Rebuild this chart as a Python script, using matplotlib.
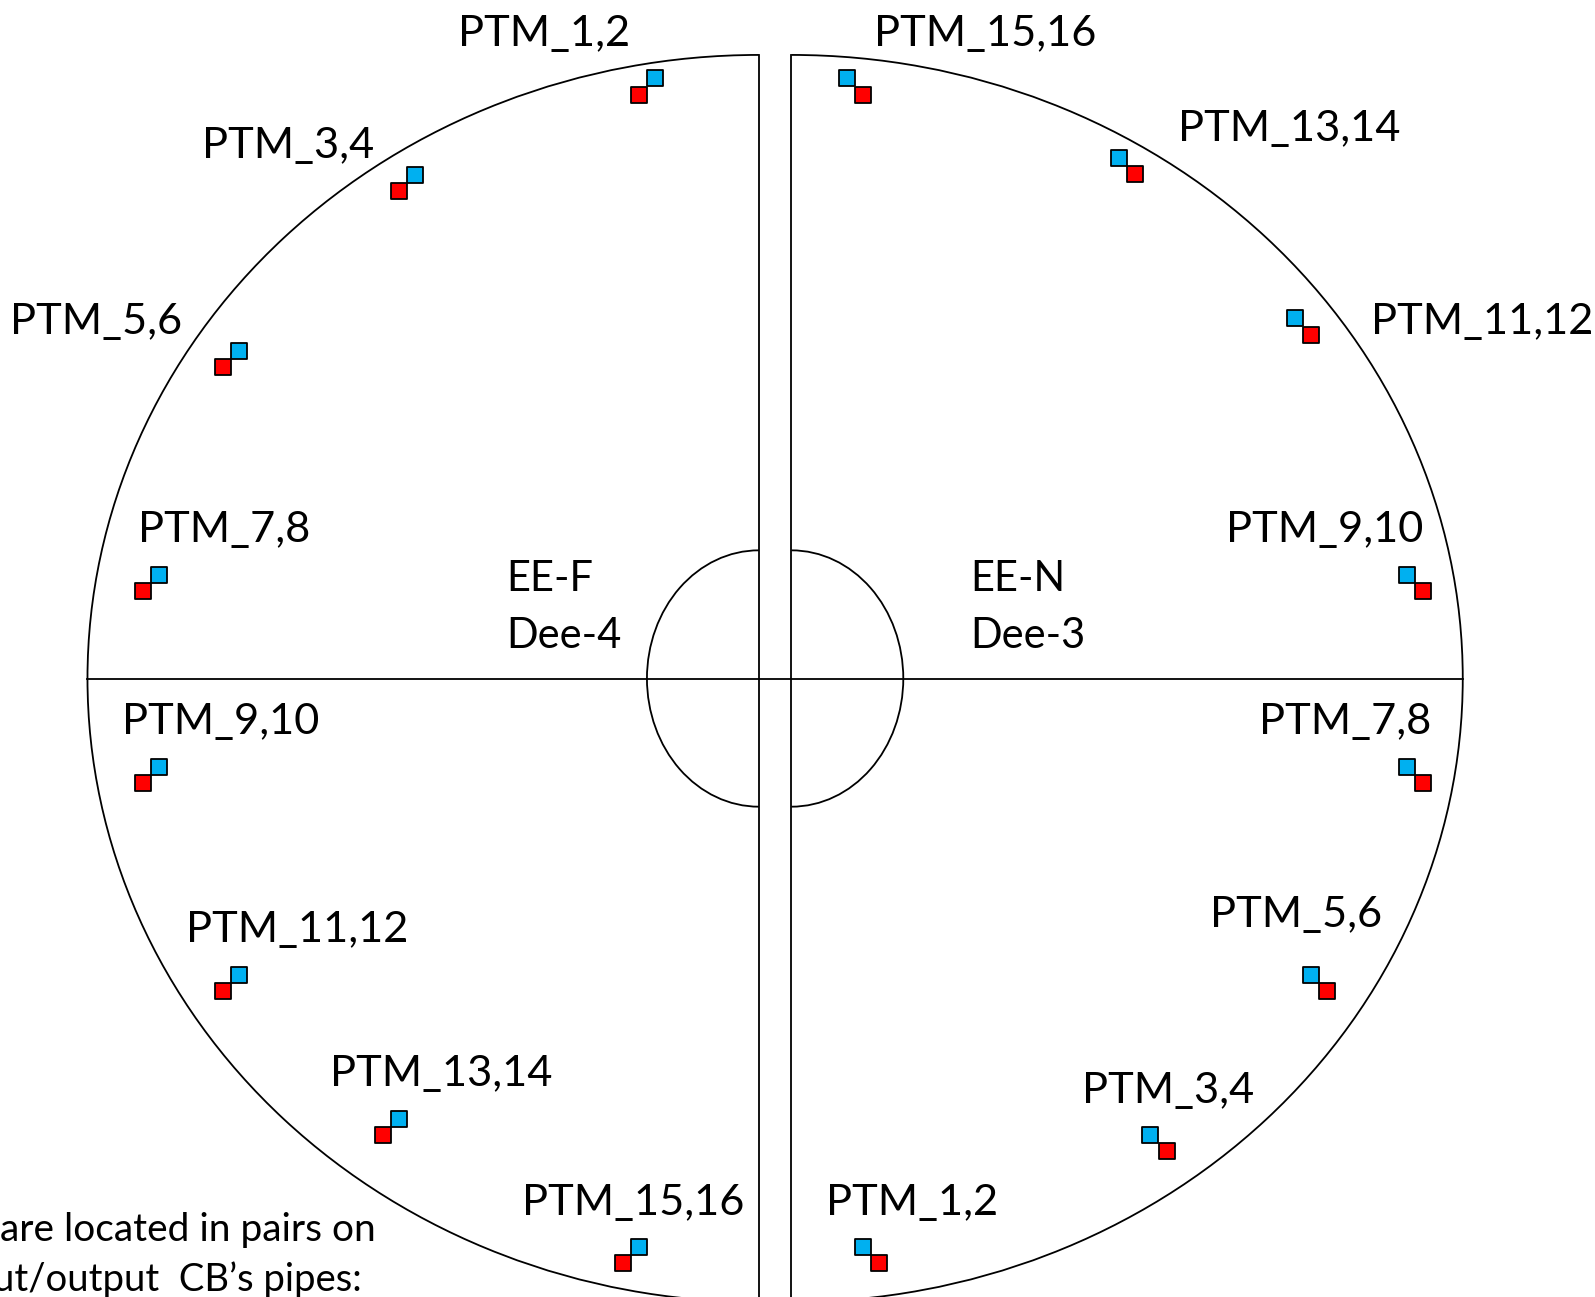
import matplotlib
matplotlib.use("Agg")
import matplotlib.pyplot as plt
from matplotlib.patches import Arc

# Layout units of the diagram
left_edge, right_edge = 86, 1438
gap_left, gap_right = 746, 778
center_y, outer_ry, inner_ry, inner_rx = 667, 613, 126, 110

# Left dee (EE-F) sensors
left_labels = ["PTM_1,2", "PTM_3,4", "PTM_5,6", "PTM_7,8", "PTM_9,10", "PTM_11,12", "PTM_13,14", "PTM_15,16"]
left_label_x = [452, 200, 11, 137, 121, 184, 326, 515]
left_label_y = [45, 155, 328, 533, 722, 926, 1068, 1194]
left_blue_x = [644, 408, 235, 156, 156, 235, 392, 628]
left_blue_y = [77, 172, 345, 565, 754, 958, 1100, 1226]
left_red_x = [628, 392, 219, 140.5, 140.5, 219, 376.5, 612]
left_red_y = [93, 187.5, 360.5, 580.5, 769.5, 974, 1116, 1241.5]

# Right dee (EE-N) sensors
right_labels = ["PTM_15,16", "PTM_13,14", "PTM_11,12", "PTM_9,10", "PTM_7,8", "PTM_5,6", "PTM_3,4", "PTM_1,2"]
right_label_x = [861, 1160, 1349, 1207, 1239, 1191, 1065, 814]
right_label_y = [45, 139, 328, 533, 722, 911, 1084, 1194]
right_blue_x = [832.5, 1100, 1273, 1383, 1383, 1289, 1131, 848]
right_blue_y = [77, 155, 313, 565, 754, 958, 1116, 1226]
right_red_x = [848, 1116, 1289, 1399, 1399, 1304.5, 1147, 864]
right_red_y = [93, 171.5, 329, 581, 770, 974, 1131, 1241.5]

# Dee captions
dee_text = ["EE-F", "Dee-4", "EE-N", "Dee-3"]
dee_x = [499, 499, 955, 955]
dee_y = [581, 637, 581, 637]

# Note cut off by the lower-left edge of the slide
note_text = ["are located in pairs on", "ut/output  CB\u2019s pipes:"]
note_x = [369.5, 355.5]
note_y = [1220, 1269]
note_size = [28, 27.5]

BLUE, RED = "#00B0F0", "#FF0000"
LW = 1.3

plt.rcParams["font.family"] = ["Lato", "DejaVu Sans"]
fig = plt.figure(figsize=(15.95, 12.97), dpi=100)
ax = fig.add_axes([0, 0, 1, 1])
ax.set_xlim(0, 1568)
ax.set_ylim(1275, 0)
ax.axis("off")

# Half ellipses, each centred on its own gap line
ax.add_patch(Arc((gap_left, center_y), 2 * (gap_left - left_edge), 2 * outer_ry,
                 theta1=90, theta2=270, lw=LW, color="k"))
ax.add_patch(Arc((gap_right, center_y), 2 * (right_edge - gap_right), 2 * outer_ry,
                 theta1=-90, theta2=90, lw=LW, color="k"))
ax.add_patch(Arc((gap_left, center_y), 2 * inner_rx, 2 * inner_ry,
                 theta1=90, theta2=270, lw=LW, color="k"))
ax.add_patch(Arc((gap_right, center_y), 2 * inner_rx, 2 * inner_ry,
                 theta1=-90, theta2=90, lw=LW, color="k"))

ax.plot([left_edge, right_edge], [center_y, center_y], color="k", lw=LW)
bottom = center_y + outer_ry
top = center_y - outer_ry
ax.plot([gap_left, gap_left], [top, bottom], color="k", lw=LW)
ax.plot([gap_right, gap_right], [top, bottom], color="k", lw=LW)

size = (15 * 0.72 * 1.0177) ** 2
for xs, ys, color in [(left_blue_x, left_blue_y, BLUE), (left_red_x, left_red_y, RED),
                      (right_blue_x, right_blue_y, BLUE), (right_red_x, right_red_y, RED)]:
    ax.scatter(xs, ys, s=size, marker="s", c=color, edgecolors="k", linewidths=1.3, zorder=3)

FS = 31.2
for labels, xs, ys in [(left_labels, left_label_x, left_label_y),
                       (right_labels, right_label_x, right_label_y)]:
    for t, x, y in zip(labels, xs, ys):
        ax.text(x - 1.5, y, t, fontsize=FS, ha="left", va="baseline", color="k")
for t, x, y in zip(dee_text, dee_x, dee_y):
    ax.text(x - 1, y, t, fontsize=30, ha="left", va="baseline", color="k")
for t, x, y, s in zip(note_text, note_x, note_y, note_size):
    ax.text(x, y, t, fontsize=s, ha="right", va="baseline", color="k")

fig.savefig("out.png", dpi=100)
